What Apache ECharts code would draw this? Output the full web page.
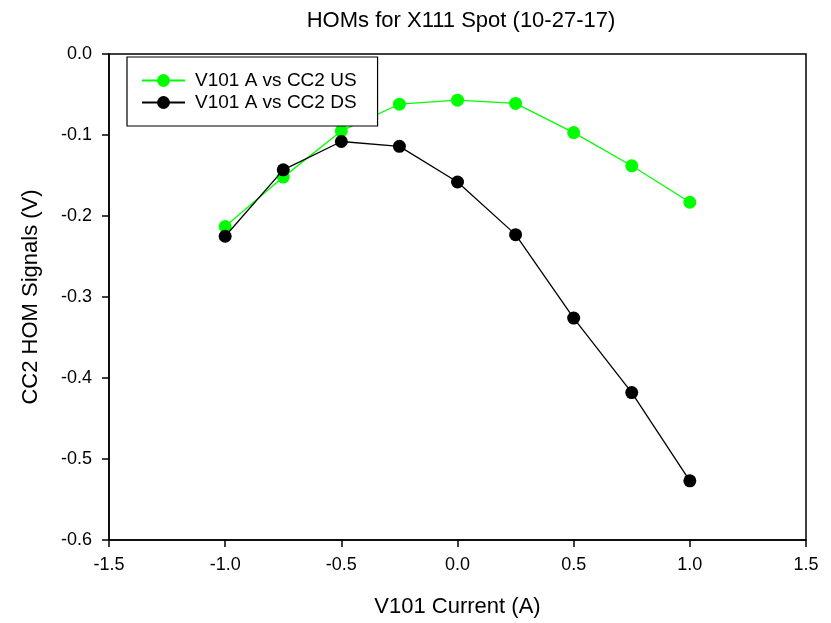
<!DOCTYPE html>
<html>
<head>
<meta charset="utf-8">
<title>HOMs for X111 Spot (10-27-17)</title>
<script src="https://cdn.jsdelivr.net/npm/echarts@6/dist/echarts.min.js"></script>
<style>
  html, body { margin: 0; padding: 0; background: #fff; }
  #chart { width: 831px; height: 623px; }
</style>
</head>
<body>
<div id="chart"></div>
<script>
// V101 corrector current (A)
const currents = [-1.0, -0.75, -0.5, -0.25, 0.0, 0.25, 0.5, 0.75, 1.0];
// CC2 HOM signals (V), upstream and downstream couplers
const ccUS = [-0.213, -0.152, -0.095, -0.062, -0.057, -0.061, -0.097, -0.138, -0.183];
const ccDS = [-0.225, -0.143, -0.108, -0.114, -0.158, -0.223, -0.326, -0.418, -0.527];
const seriesNames = ['V101 A vs CC2 US', 'V101 A vs CC2 DS'];

const FONT = '"Liberation Sans", Arial, sans-serif';
const pairs = ys => currents.map((x, i) => [x, ys[i]]);

const chart = echarts.init(document.getElementById('chart'), null, { renderer: 'canvas' });

const axisCommon = {
  axisLine: { show: true, onZero: false, lineStyle: { color: '#000', width: 1.5 } },
  axisTick: { show: true, inside: false, length: 7, lineStyle: { color: '#000', width: 1.5 } },
  splitLine: { show: false },
  nameTextStyle: { color: '#000', fontSize: 22, fontFamily: FONT }
};

chart.setOption({
  backgroundColor: '#fff',
  animation: false,
  title: {
    text: 'HOMs for X111 Spot (10-27-17)',
    left: 456,
    textAlign: 'center',
    top: 5,
    textStyle: { color: '#000', fontSize: 22, fontWeight: 'normal', fontFamily: FONT }
  },
  grid: {
    left: 109, top: 54, right: 25, bottom: 80,
    show: true, borderColor: '#000', borderWidth: 1.5, backgroundColor: 'transparent'
  },
  legend: {
    orient: 'vertical',
    left: 127, top: 57,
    padding: [14, 21, 14, 14],
    itemGap: 3,
    itemWidth: 43,
    itemHeight: 16,
    borderColor: '#000',
    borderWidth: 1.2,
    backgroundColor: '#fff',
    textStyle: { color: '#000', fontSize: 19, fontFamily: FONT, padding: [0, 0, 0, 5] },
    data: seriesNames
  },
  xAxis: Object.assign({
    type: 'value',
    min: -1.5, max: 1.5, interval: 0.5,
    name: 'V101 Current (A)',
    nameLocation: 'middle',
    nameGap: 56,
    axisLabel: {
      color: '#000', fontSize: 18, fontFamily: FONT, margin: 16,
      formatter: v => v.toFixed(1)
    }
  }, axisCommon),
  yAxis: Object.assign({
    type: 'value',
    min: -0.6, max: 0, interval: 0.1,
    name: 'CC2 HOM Signals (V)',
    nameLocation: 'middle',
    nameGap: 67,
    axisLabel: {
      color: '#000', fontSize: 18, fontFamily: FONT, margin: 17,
      formatter: v => v.toFixed(1)
    }
  }, axisCommon),
  series: [
    {
      name: seriesNames[0],
      type: 'line',
      data: pairs(ccUS),
      symbol: 'circle',
      symbolSize: 13,
      itemStyle: { color: '#00ff00' },
      lineStyle: { color: '#00ff00', width: 1.3 },
      z: 2
    },
    {
      name: seriesNames[1],
      type: 'line',
      data: pairs(ccDS),
      symbol: 'circle',
      symbolSize: 13,
      itemStyle: { color: '#000' },
      lineStyle: { color: '#000', width: 1.3 },
      z: 3
    }
  ]
});
</script>
</body>
</html>
